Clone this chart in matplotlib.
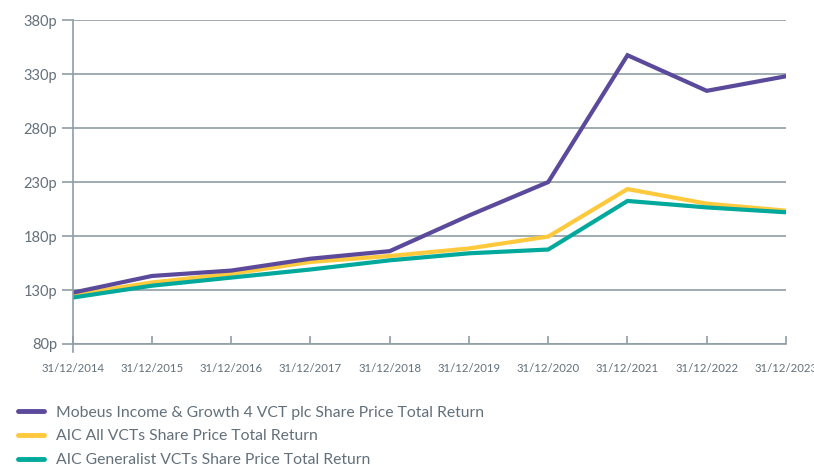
import matplotlib
matplotlib.use("Agg")
import matplotlib.pyplot as plt
import numpy as np

# year-end dates on the x axis
dates = ["31/12/2014", "31/12/2015", "31/12/2016", "31/12/2017", "31/12/2018",
         "31/12/2019", "31/12/2020", "31/12/2021", "31/12/2022", "31/12/2023"]

mobeus = [127.5, 143, 148, 159, 166, 199, 230, 347.5, 314.5, 328]
aic_all = [125.5, 137, 145, 156, 161.5, 168.5, 179.5, 223.5, 210, 203.5]
aic_gen = [123, 134, 141.5, 149, 157.5, 164, 167.5, 212.5, 206.5, 202]

yticks = [80, 130, 180, 230, 280, 330, 380]

purple = "#5b4a9b"
yellow = "#fec93c"
teal = "#00a99c"
grid_col = "#8e9ea6"
txt_col = "#63707a"

plt.rcParams["font.family"] = ["Lato", "DejaVu Sans"]

fig = plt.figure(figsize=(8.14, 4.68), dpi=100)
ax = fig.add_axes([0.0893, 0.265, 0.8763, 0.692])

x = np.arange(len(dates))
l2, = ax.plot(x, aic_all, color=yellow, lw=3, solid_joinstyle="miter",
              label="AIC All VCTs Share Price Total Return")
l3, = ax.plot(x, aic_gen, color=teal, lw=3, solid_joinstyle="miter",
              label="AIC Generalist VCTs Share Price Total Return")
l1, = ax.plot(x, mobeus, color=purple, lw=3, solid_joinstyle="miter",
              label="Mobeus Income & Growth 4 VCT plc Share Price Total Return")

ax.set_xlim(0, len(dates) - 1)
ax.set_ylim(80, 380)
ax.set_yticks(yticks)
ax.set_yticklabels([f"{v}p" for v in yticks])
ax.set_xticks(x)
ax.set_xticklabels(dates)

ax.grid(axis="y", color=grid_col, lw=1.2)
ax.set_axisbelow(True)
for s in ["top", "right"]:
    ax.spines[s].set_visible(False)
ax.spines["bottom"].set_color(grid_col)
ax.spines["bottom"].set_linewidth(1.2)
ax.spines["left"].set_color(grid_col)
ax.spines["left"].set_linewidth(1.2)
ax.spines["left"].set_bounds(73, 380)

ax.tick_params(axis="y", length=8, width=1.2, color=grid_col, labelsize=10.5,
               labelcolor=txt_col, pad=3)
ax.tick_params(axis="x", direction="in", length=6, width=1.2, color=grid_col,
               labelsize=8.2, labelcolor=txt_col, pad=14)

leg = fig.legend(handles=[l1, l2, l3], loc="upper left",
                 bbox_to_anchor=(0.012, 0.15), frameon=False,
                 fontsize=11.3, handlelength=1.7, handletextpad=0.75,
                 labelspacing=0.62, borderpad=0)
for t in leg.get_texts():
    t.set_color(txt_col)
for h in leg.get_lines():
    h.set_linewidth(3.5)
    h.set_solid_capstyle("round")

fig.savefig("out.png", dpi=100)
